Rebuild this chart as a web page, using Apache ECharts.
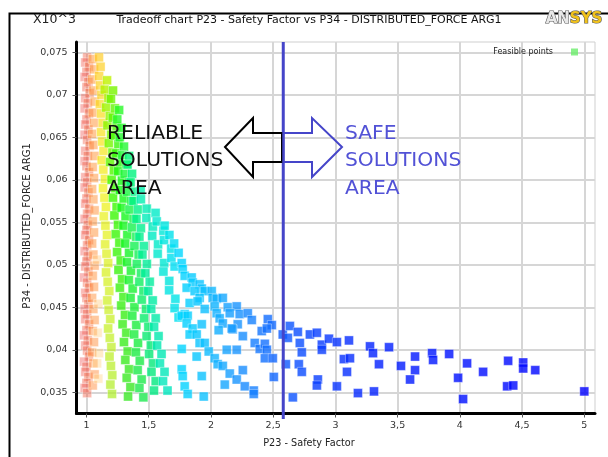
<!DOCTYPE html>
<html><head><meta charset="utf-8">
<script src="https://cdn.jsdelivr.net/npm/echarts@6/dist/echarts.min.js"></script>
<style>html,body{margin:0;padding:0;background:#fff}#c{width:608px;height:457px}</style>
</head><body><div id="c"></div><script>
const xTicks = [1,1.5,2,2.5,3,3.5,4,4.5,5];
const yTicks = [0.035,0.04,0.045,0.05,0.055,0.06,0.065,0.07,0.075];
const dividerX = 2.581;

const bandRed = [[1.005,0.0744],[0.99,0.0738],[1.02,0.0733],[1.0,0.0727],[0.985,0.0721],[1.015,0.0715],[1.0,0.0709],[1.025,0.0702],[0.99,0.0696],[1.01,0.069],[0.985,0.0684],[1.02,0.0678],[1.0,0.0671],[0.99,0.0665],[1.015,0.0659],[0.985,0.0653],[1.005,0.0647],[1.025,0.064],[0.99,0.0634],[1.01,0.0628],[0.985,0.0622],[1.0,0.0616],[1.02,0.0609],[0.99,0.0603],[1.005,0.0597],[0.985,0.0591],[1.015,0.0585],[1.0,0.0578],[0.99,0.0572],[1.02,0.0566],[1.005,0.056],[0.985,0.0554],[1.01,0.0547],[1.0,0.0541],[0.99,0.0535],[1.02,0.0529],[1.005,0.0523],[0.985,0.0516],[1.01,0.051],[1.0,0.0504],[0.99,0.0498],[1.015,0.0492],[0.98,0.0485],[1.005,0.0479],[1.02,0.0473],[0.99,0.0467],[1.0,0.0461],[1.015,0.0454],[0.985,0.0448],[1.005,0.0442],[0.99,0.0436],[1.02,0.043],[1.0,0.0423],[0.98,0.0417],[1.01,0.0411],[0.99,0.0405],[1.005,0.0399],[1.02,0.0392],[0.98,0.0386],[1.0,0.038],[0.99,0.0374],[1.015,0.0368],[1.0,0.0361],[0.985,0.0355],[1.005,0.0349]];
const bandOrange = [[1.05,0.0742],[1.06,0.073],[1.045,0.0718],[1.055,0.0705],[1.065,0.0692],[1.05,0.0679],[1.06,0.0667],[1.045,0.0654],[1.055,0.0641],[1.065,0.0628],[1.05,0.0615],[1.06,0.0602],[1.045,0.0589],[1.055,0.0577],[1.065,0.0564],[1.05,0.0551],[1.06,0.0538],[1.045,0.0525],[1.055,0.0512],[1.065,0.0499],[1.05,0.0487],[1.06,0.0474],[1.045,0.0461],[1.055,0.0448],[1.065,0.0435],[1.05,0.0422],[1.06,0.0409],[1.045,0.0397],[1.055,0.0384],[1.065,0.0371],[1.05,0.0358]];
const bandPale = [[1.085,0.0506],[1.095,0.0454],[1.09,0.042],[1.1,0.0396],[1.085,0.0384],[1.095,0.0366]];
const bandYellow = [[1.1,0.0744],[1.113,0.0733],[1.101,0.0722],[1.109,0.0711],[1.12,0.07],[1.107,0.0689],[1.117,0.0678],[1.13,0.0667],[1.117,0.0656],[1.126,0.0645],[1.137,0.0634],[1.122,0.0623],[1.135,0.0612],[1.148,0.0601],[1.133,0.059],[1.144,0.0579],[1.156,0.0568],[1.139,0.0557],[1.152,0.0546],[1.165,0.0535],[1.15,0.0524],[1.161,0.0513],[1.174,0.0502],[1.157,0.0491],[1.17,0.048],[1.183,0.0469],[1.167,0.0458],[1.178,0.0447],[1.191,0.0436],[1.174,0.0425],[1.187,0.0414],[1.2,0.0403],[1.185,0.0392],[1.196,0.0381],[1.207,0.037],[1.192,0.0359],[1.205,0.0348]];
const bandGA = [[1.165,0.0717],[1.146,0.0706],[1.176,0.0696],[1.157,0.0685],[1.187,0.0675],[1.168,0.0664],[1.198,0.0653],[1.179,0.0643],[1.209,0.0632],[1.19,0.0621],[1.22,0.0611],[1.202,0.06],[1.231,0.059],[1.213,0.0579],[1.242,0.0568],[1.224,0.0558],[1.253,0.0547],[1.235,0.0536],[1.264,0.0526],[1.246,0.0515],[1.275,0.0505],[1.257,0.0494],[1.286,0.0483],[1.268,0.0473],[1.297,0.0462],[1.279,0.0452],[1.309,0.0441],[1.29,0.043],[1.32,0.042],[1.301,0.0409],[1.331,0.0398],[1.312,0.0388],[1.342,0.0377],[1.323,0.0367],[1.353,0.0356],[1.334,0.0345]];
const bandGB = [[1.213,0.0705],[1.196,0.0695],[1.228,0.0684],[1.211,0.0673],[1.242,0.0663],[1.225,0.0652],[1.256,0.0642],[1.239,0.0631],[1.271,0.062],[1.254,0.061],[1.285,0.0599],[1.268,0.0588],[1.299,0.0578],[1.282,0.0567],[1.314,0.0557],[1.297,0.0546],[1.328,0.0535],[1.311,0.0525],[1.342,0.0514],[1.325,0.0503],[1.357,0.0493],[1.34,0.0482],[1.371,0.0472],[1.354,0.0461],[1.385,0.045],[1.368,0.044],[1.4,0.0429],[1.383,0.0418],[1.414,0.0408],[1.397,0.0397],[1.428,0.0387],[1.411,0.0376],[1.443,0.0365],[1.425,0.0355],[1.457,0.0344]];
const bandGC = [[1.262,0.0682],[1.247,0.0671],[1.281,0.0661],[1.267,0.065],[1.301,0.0639],[1.287,0.0629],[1.321,0.0618],[1.306,0.0607],[1.34,0.0597],[1.326,0.0586],[1.36,0.0575],[1.346,0.0565],[1.379,0.0554],[1.365,0.0544],[1.399,0.0533],[1.385,0.0522],[1.419,0.0512],[1.404,0.0501],[1.438,0.049],[1.424,0.048],[1.458,0.0469],[1.444,0.0459],[1.478,0.0448],[1.463,0.0437],[1.497,0.0427],[1.483,0.0416],[1.517,0.0405],[1.503,0.0395],[1.537,0.0384],[1.522,0.0374],[1.556,0.0363],[1.542,0.0352]];
const bandAQ = [[1.342,0.0628],[1.33,0.0618],[1.366,0.0607],[1.354,0.0597],[1.39,0.0586],[1.377,0.0575],[1.413,0.0565],[1.401,0.0554],[1.437,0.0543],[1.425,0.0533],[1.461,0.0522],[1.449,0.0512],[1.485,0.0501],[1.472,0.049],[1.508,0.048],[1.496,0.0469],[1.532,0.0458],[1.52,0.0448],[1.556,0.0437],[1.543,0.0427],[1.579,0.0416],[1.567,0.0405],[1.603,0.0395],[1.59,0.0384],[1.627,0.0374],[1.615,0.0363],[1.651,0.0352]];
const bandCY1 = [[1.435,0.0587],[1.437,0.0577],[1.484,0.0566],[1.481,0.0555],[1.533,0.0545],[1.528,0.0534],[1.575,0.0524],[1.572,0.0513],[1.624,0.0502],[1.618,0.0492],[1.665,0.0481],[1.664,0.047],[1.714,0.046],[1.708,0.0449],[1.74,0.0438]];
const bandCY2 = [[1.555,0.0561],[1.564,0.0551],[1.618,0.054],[1.623,0.0529],[1.681,0.0519],[1.682,0.0508],[1.708,0.0498]];
const bandLB1 = [[1.628,0.0546],[1.666,0.0535],[1.704,0.0525],[1.74,0.0514]];
const bandBlue = [[1.765,0.0502],[1.773,0.0495],[1.789,0.0487],[1.845,0.0485],[1.853,0.0479],[1.909,0.0477],[1.926,0.0472],[1.95,0.0469],[2.006,0.0469],[2.014,0.0461],[2.046,0.046],[2.095,0.0461],[1.805,0.0473],[1.869,0.0469],[1.909,0.0461],[1.829,0.0455],[1.893,0.0457],[1.95,0.0448],[2.03,0.0451],[2.046,0.0443],[2.07,0.0437],[2.095,0.0431],[2.135,0.045],[2.207,0.0451],[2.151,0.0443],[2.231,0.0442],[2.296,0.0443],[2.215,0.043],[2.175,0.0424],[2.256,0.0416],[2.328,0.0435],[1.789,0.0442],[1.765,0.044],[1.813,0.044],[1.805,0.0431],[1.853,0.0425],[1.829,0.0418],[1.885,0.0418],[1.926,0.043],[2.062,0.0423],[2.167,0.0425],[1.909,0.0408],[1.95,0.0408],[1.982,0.0398],[2.127,0.04],[2.207,0.04],[2.352,0.0408],[2.392,0.0401],[1.765,0.0401],[1.885,0.0392],[2.03,0.039],[2.054,0.0383],[2.095,0.0381],[2.151,0.0372],[2.207,0.0365],[2.256,0.0376],[2.272,0.0357],[1.765,0.0377],[1.773,0.0369],[1.789,0.0357],[1.813,0.0348],[1.926,0.0369],[2.111,0.0359],[1.942,0.0345],[2.714,0.0408],[2.602,0.0383],
[2.457,0.0436],[2.489,0.0429],[2.408,0.0422],[2.449,0.0425],[2.577,0.0418],[2.634,0.0428],[2.698,0.0421],[2.618,0.0414],[2.795,0.0418],[2.851,0.042],[2.433,0.0407],[2.449,0.04],[2.433,0.039],[2.497,0.039],[2.73,0.0397],[2.891,0.0406],[2.891,0.04],[2.948,0.0413],[3.012,0.0409],[3.109,0.0411],[2.706,0.0383],[2.73,0.0374],[2.505,0.0368],[2.859,0.0365],[2.851,0.0358],[3.012,0.0357],[2.344,0.0352],[2.344,0.0348],[2.658,0.0344],[3.068,0.0389],[3.117,0.039],[3.093,0.0374],[3.181,0.0349],[3.31,0.0351],[3.278,0.0404],[3.302,0.0396],[3.35,0.0383],[3.431,0.0403],[3.527,0.0381],[3.64,0.0392],[3.64,0.0376],[3.6,0.0365],[3.777,0.0396],[3.785,0.0388],[3.914,0.0395],[4.058,0.0384],[3.986,0.0367],[4.026,0.0342],[4.187,0.0374],[4.388,0.0387],[4.509,0.0385],[4.509,0.0378],[4.606,0.0376],[4.38,0.0357],[4.429,0.0358],[5.0,0.0351]];

const blueStops = [[1.75,[0,215,255,1]],[2.0,[15,185,255,1]],[2.2,[25,150,255,1]],[2.4,[20,118,255,1]],[2.6,[12,88,255,1]],[2.9,[8,58,255,1]],[3.3,[4,34,255,1]],[4.0,[0,16,255,1]],[5.0,[0,0,255,1]]];

function fmt(c){ return 'rgba('+Math.round(c[0])+','+Math.round(c[1])+','+Math.round(c[2])+','+c[3].toFixed(3)+')'; }
function colorAt(stops,k){
  if(k<=stops[0][0]) return fmt(stops[0][1]);
  for(let i=1;i<stops.length;i++){
    if(k<=stops[i][0]){ const a=stops[i-1],b=stops[i]; const u=(k-a[0])/(b[0]-a[0]); return fmt(a[1].map((v,j)=>v+(b[1][j]-v)*u)); }
  }
  return fmt(stops[stops.length-1][1]);
}
function band(data, stops, mode){
  const n=data.length;
  return { type:'scatter', name:'Feasible points', data:data, symbol:'rect', symbolSize:9, silent:true,
    itemStyle:{ color: p => colorAt(stops, mode==='x' ? p.value[0] : (n>1 ? p.dataIndex/(n-1) : 0)),
      borderColor:'rgba(255,255,255,0.45)', borderWidth:1 } };
}
const FONT='"DejaVu Sans", sans-serif';
const fmtNum = v => String(v).replace('.', ',');

const chart = echarts.init(document.getElementById('c'));
chart.setOption({
  animation:false,
  backgroundColor:'#fff',
  grid:{left:76.5, right:13, top:42, bottom:43.5, show:true, borderColor:'#cfcfcf', borderWidth:1, outerBoundsMode:'none', containLabel:false},
  legend:{data:[{name:'Feasible points', icon:'rect', itemStyle:{color:'#6ced6c', borderWidth:0}}],
    right:30, top:48, align:'right', itemWidth:7, itemHeight:7, padding:0, selectedMode:false,
    textStyle:{fontSize:8, color:'#222', fontFamily:FONT, padding:[0,13,0,0]}},
  xAxis:{type:'value', min:0.9196, max:5.086,
    axisLine:{show:true, onZero:false, lineStyle:{color:'#000', width:3}},
    axisTick:{show:true, customValues:xTicks, length:4, lineStyle:{color:'#555'}},
    axisLabel:{customValues:xTicks, formatter:fmtNum, fontSize:9.5, color:'#333', margin:7, fontFamily:FONT},
    splitLine:{show:true, lineStyle:{color:'#d6d6d6', width:2}}},
  yAxis:{type:'value', min:0.0325, max:0.07621,
    axisLine:{show:true, onZero:false, lineStyle:{color:'#000', width:3}},
    axisTick:{show:true, customValues:yTicks, length:4, lineStyle:{color:'#555'}},
    axisLabel:{customValues:yTicks, formatter:fmtNum, fontSize:9.5, color:'#333', margin:9, fontFamily:FONT},
    splitLine:{show:true, lineStyle:{color:'#d6d6d6', width:2}}},
  series:[
    band(bandRed, [[0.98,[238,82,82,0.5]],[1.03,[248,112,62,0.6]]], 'x'),
    band(bandOrange, [[0,[255,150,50,0.65]],[1,[255,140,60,0.6]]], 'i'),
    band(bandPale, [[0,[255,200,120,0.5]],[1,[255,210,130,0.5]]], 'i'),
    band(bandYellow, [[0,[255,200,20,0.8]],[0.4,[240,240,10,0.85]],[1,[175,238,40,0.9]]], 'i'),
    band(bandGA, [[0,[190,242,0,1]],[0.35,[60,250,0,1]],[1,[60,232,40,1]]], 'i'),
    band(bandGB, [[0,[120,245,0,1]],[0.3,[20,250,20,1]],[1,[30,232,80,1]]], 'i'),
    band(bandGC, [[0,[40,250,40,1]],[1,[0,232,130,1]]], 'i'),
    band(bandAQ, [[0,[0,245,120,1]],[1,[0,230,190,1]]], 'i'),
    band(bandCY1, [[0,[0,240,170,1]],[1,[0,225,240,1]]], 'i'),
    band(bandCY2, [[0,[0,235,200,1]],[1,[0,222,245,1]]], 'i'),
    band(bandLB1, [[0,[0,230,225,1]],[1,[0,215,255,1]]], 'i'),
    band(bandBlue, blueStops, 'x')
  ]
});

const divPx = chart.convertToPixel({xAxisIndex:0}, dividerX);
const topPx = chart.convertToPixel({yAxisIndex:0}, 0.07621);
const BLUE = '#4545c9';
chart.setOption({graphic:[
  {type:'polyline', z:100, shape:{points:[[9.5,470],[9.5,13.5],[620,13.5]]}, style:{stroke:'#000', lineWidth:2, fill:null}},
  {type:'text', z:101, style:{text:'X10^3', x:33, y:19.5, font:'12.5px '+FONT, fill:'#222', verticalAlign:'middle'}},
  {type:'text', z:101, style:{text:'Tradeoff chart P23 - Safety Factor vs P34 - DISTRIBUTED_FORCE ARG1', x:309, y:20, font:'11px '+FONT, fill:'#111', align:'center', verticalAlign:'middle'}},
  {type:'text', z:101, style:{text:'{a|AN}{b|SYS}', x:574, y:19, align:'center', verticalAlign:'middle',
    rich:{a:{font:'bold 15px '+FONT, fill:'#e8e8e8', stroke:'#5a5a5a', lineWidth:1.2}, b:{font:'bold 15px '+FONT, fill:'#f1c21b', stroke:'#5a5a5a', lineWidth:1.2}}}},
  {type:'text', z:101, style:{text:'P23 - Safety Factor', x:309, y:443.5, font:'9.7px '+FONT, fill:'#222', align:'center', verticalAlign:'middle'}},
  {type:'text', z:101, x:27.5, y:226, rotation:Math.PI/2, style:{text:'P34 - DISTRIBUTED_FORCE ARG1', x:0, y:0, font:'10px '+FONT, fill:'#222', align:'center', verticalAlign:'middle'}},
  {type:'line', z:90, shape:{x1:divPx, y1:topPx, x2:divPx, y2:419}, style:{stroke:BLUE, lineWidth:3}},
  {type:'polygon', z:91, shape:{points:[[225,147],[253,118],[253,133],[282,133],[282,162],[253,162],[253,177]]}, style:{stroke:'#000', lineWidth:2, fill:null}},
  {type:'polygon', z:91, shape:{points:[[divPx,133],[312,133],[312,118],[342,147],[312,177],[312,162],[divPx,162]]}, style:{stroke:BLUE, lineWidth:2, fill:null}},
  {type:'text', z:95, style:{text:'RELIABLE\nSOLUTIONS\nAREA', x:107, y:119.5, font:'20.3px '+FONT, lineHeight:27.5, fill:'#111', verticalAlign:'top'}},
  {type:'text', z:95, style:{text:'SAFE\nSOLUTIONS\nAREA', x:345, y:119.5, font:'20.3px '+FONT, lineHeight:27.5, fill:'#5252d6', verticalAlign:'top'}}
]});
</script></body></html>
